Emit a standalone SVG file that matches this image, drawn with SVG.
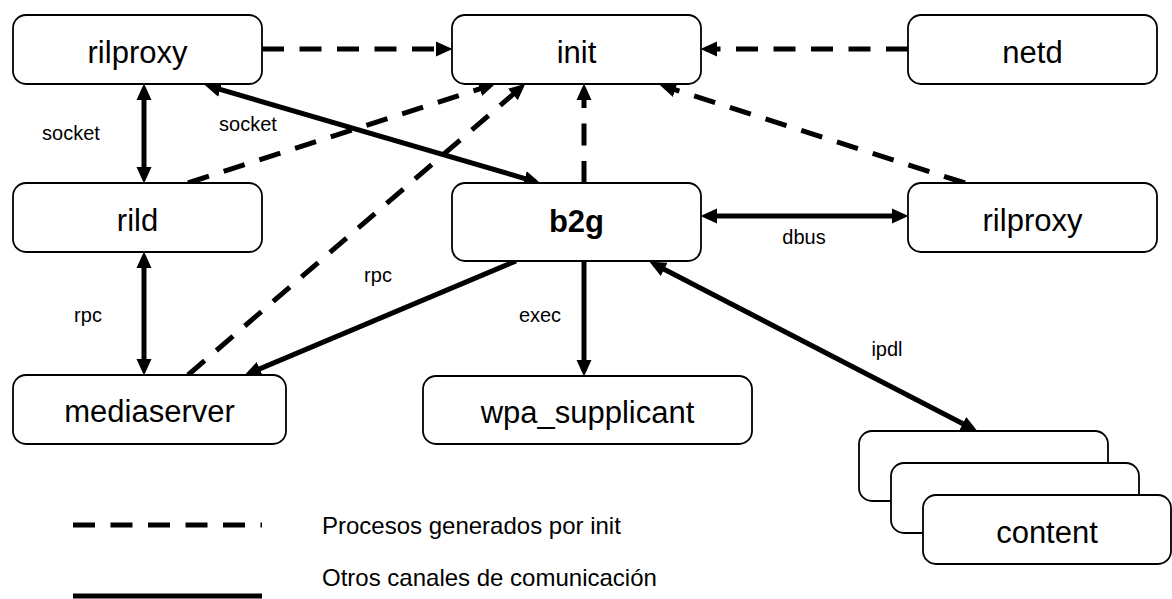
<svg xmlns="http://www.w3.org/2000/svg" width="1172" height="599" viewBox="0 0 1172 599">
  <style>
    .box { fill: #fff; stroke: #000; stroke-width: 1.8; }
    .lbl { font-family: "Liberation Sans", Arial, sans-serif; font-size: 31px; text-anchor: middle; fill: #000; }
    .bold { font-weight: bold; }
    .edge { fill: none; stroke: #000; stroke-width: 5; }
    .dash { stroke-dasharray: 22 15.5; }
    .elbl { font-family: "Liberation Sans", Arial, sans-serif; font-size: 20px; text-anchor: middle; fill: #000; }
    .legend { font-family: "Liberation Sans", Arial, sans-serif; font-size: 24px; fill: #000; }
  </style>
  <defs>
    <marker id="arrow" markerUnits="userSpaceOnUse" markerWidth="17" markerHeight="16" viewBox="0 0 17 16" refX="11" refY="8" orient="auto-start-reverse">
      <path d="M0,0.5 L16.5,8 L0,15.5 z" fill="#000"/>
    </marker>
  </defs>

  <rect width="1172" height="599" fill="#fff"/>

  <!-- connectors -->
  <g id="connectors">
    <!-- started by init -->
    <path class="edge dash" d="M262,49 L447,49" marker-end="url(#arrow)"/>
    <path class="edge dash" d="M908,49 L706,49" marker-end="url(#arrow)"/>
    <path class="edge dash" d="M188,183 L490.2,85.5" marker-end="url(#arrow)"/>
    <path class="edge dash" d="M188,375 L521.2,87.3" marker-end="url(#arrow)"/>
    <path class="edge dash" d="M584,183 L584,89" marker-end="url(#arrow)"/>
    <path class="edge dash" d="M965,183 L664.8,86.5" marker-end="url(#arrow)"/>

    <!-- other channels -->
    <path class="edge" d="M144,89 L144,178" marker-start="url(#arrow)" marker-end="url(#arrow)"/>
    <path class="edge" d="M209.8,86.4 L535.2,181.6" marker-start="url(#arrow)" marker-end="url(#arrow)"/>
    <path class="edge" d="M144,257 L144,370" marker-start="url(#arrow)" marker-end="url(#arrow)"/>
    <path class="edge" d="M706,216 L903,216" marker-start="url(#arrow)" marker-end="url(#arrow)"/>
    <path class="edge" d="M516,261 L249.6,373.1" marker-end="url(#arrow)"/>
    <path class="edge" d="M584,261 L584,371" marker-end="url(#arrow)"/>
    <path class="edge" d="M654.4,264.3 L972.6,428.7" marker-start="url(#arrow)" marker-end="url(#arrow)"/>

    <text class="elbl" x="71" y="140">socket</text>
    <text class="elbl" x="248" y="131">socket</text>
    <text class="elbl" x="88" y="322">rpc</text>
    <text class="elbl" x="378" y="282">rpc</text>
    <text class="elbl" x="540" y="322">exec</text>
    <text class="elbl" x="804" y="244">dbus</text>
    <text class="elbl" x="887" y="356">ipdl</text>
  </g>

  <!-- nodes -->
  <g id="rilproxy-top">
    <rect class="box" x="13" y="15" width="249" height="69" rx="13"/>
    <text class="lbl" x="137.5" y="63">rilproxy</text>
  </g>
  <g id="init">
    <rect class="box" x="452" y="15" width="249" height="69" rx="13"/>
    <text class="lbl" x="576.5" y="63">init</text>
  </g>
  <g id="netd">
    <rect class="box" x="908" y="15" width="249" height="69" rx="13"/>
    <text class="lbl" x="1032.5" y="63">netd</text>
  </g>
  <g id="rild">
    <rect class="box" x="13" y="183" width="249" height="69" rx="13"/>
    <text class="lbl" x="137.5" y="231">rild</text>
  </g>
  <g id="b2g">
    <rect class="box" x="452" y="183" width="249" height="78" rx="13"/>
    <text class="lbl bold" x="576.5" y="232">b2g</text>
  </g>
  <g id="rilproxy-right">
    <rect class="box" x="908" y="183" width="249" height="69" rx="13"/>
    <text class="lbl" x="1032.5" y="231">rilproxy</text>
  </g>
  <g id="mediaserver">
    <rect class="box" x="13" y="375" width="273" height="69" rx="13"/>
    <text class="lbl" x="149.5" y="422">mediaserver</text>
  </g>
  <g id="wpa_supplicant">
    <rect class="box" x="423" y="376" width="329" height="68" rx="13"/>
    <text class="lbl" x="587.5" y="423">wpa_supplicant</text>
  </g>
  <g id="content">
    <rect class="box" x="859" y="431" width="249" height="70" rx="13"/>
    <rect class="box" x="891" y="463" width="248" height="70" rx="13"/>
    <rect class="box" x="923" y="495" width="248" height="69" rx="13"/>
    <text class="lbl" x="1047" y="543">content</text>
  </g>

  <!-- legend -->
  <g id="legend">
    <path class="edge dash" d="M73,525 L262,525"/>
    <path class="edge" d="M73,596 L262,596"/>
    <text class="legend" x="322" y="534">Procesos generados por init</text>
    <text class="legend" x="322" y="586">Otros canales de comunicación</text>
  </g>
</svg>
